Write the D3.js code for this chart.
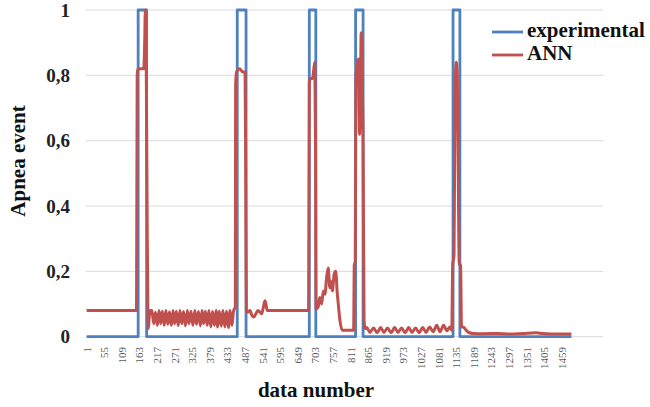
<!DOCTYPE html>
<html>
<head>
<meta charset="utf-8">
<script src="https://cdn.jsdelivr.net/npm/d3@7"></script>
<style>
  html, body { margin: 0; padding: 0; background: #fff; }
  svg { display: block; }
</style>
</head>
<body>
<svg id="chart" width="650" height="407"></svg>
<script>
// ---- data ----
const xTickLabels = [1, 55, 109, 163, 217, 271, 325, 379, 433, 487, 541, 595, 649, 703, 757, 811, 865, 919, 973, 1027, 1081, 1135, 1189, 1243, 1297, 1351, 1405, 1459];
const yTickValues = [0, 0.2, 0.4, 0.6, 0.8, 1];
const yTickLabels = ["0", "0,2", "0,4", "0,6", "0,8", "1"];
const seriesNames = ["experimental", "ANN"];
const seriesColors = ["#4f81bd", "#c0504d"];

// experimental apnea events (value 1 between start and end, 0 elsewhere)
const expFirst = 1;
const expLast = 1488;
const expStart = [159, 463, 684, 826, 1125];
const expEnd = [185, 490, 704, 849, 1146];

// ANN output (data number, value)
const annX = [1, 154, 156, 158, 176, 179, 181, 184, 187, 190, 193, 196, 201,
  207, 212, 218, 223, 228, 233, 239, 244, 250, 255, 261, 266, 271, 276, 282, 287, 293, 298, 304, 310, 315, 321, 327, 333, 338, 344, 350, 355, 360, 365, 371, 376, 382, 387, 393, 398, 403, 408, 414, 419, 425, 430, 436, 441, 447, 451, 454, 457,
  458, 461, 470, 480, 487, 489, 491, 496, 502, 508, 514, 520, 526, 533, 538, 543, 548, 551, 555, 560, 682,
  684, 688, 694, 698, 701, 703, 705, 711, 716, 722, 727, 732, 737, 742, 747, 750, 755, 760, 765, 770, 773, 778, 785, 820,
  822, 825, 827, 831, 835, 838, 841, 843, 846, 849, 852, 855,
  860, 870, 881, 892, 903, 913, 924, 935, 946, 956, 967, 978, 989, 999, 1010, 1021, 1032, 1042, 1053, 1064, 1075, 1085, 1096, 1106, 1115, 1121,
  1124, 1128, 1131, 1135, 1138, 1141, 1144, 1148, 1151, 1156, 1165, 1175, 1186, 1220, 1260, 1300, 1340, 1380, 1400, 1440, 1488];
const annY = [0.08, 0.08, 0.80, 0.82, 0.82, 0.9, 1.0, 0.8, 0.3, 0.025, 0.06, 0.08, 0.08,
  0.04, 0.075, 0.035, 0.08, 0.04, 0.078, 0.035, 0.08, 0.038, 0.076, 0.035, 0.08, 0.04, 0.078, 0.034, 0.08, 0.04, 0.077, 0.033, 0.08, 0.04, 0.078, 0.035, 0.08, 0.038, 0.077, 0.033, 0.08, 0.04, 0.078, 0.035, 0.08, 0.03, 0.077, 0.035, 0.08, 0.03, 0.078, 0.032, 0.08, 0.03, 0.078, 0.028, 0.08, 0.035, 0.075, 0.085, 0.09,
  0.77, 0.81, 0.82, 0.81, 0.81, 0.5, 0.08, 0.075, 0.08, 0.065, 0.06, 0.07, 0.08, 0.075, 0.07, 0.09, 0.11, 0.1, 0.08, 0.08, 0.08,
  0.78, 0.79, 0.79, 0.82, 0.84, 0.6, 0.085, 0.09, 0.12, 0.1, 0.14, 0.13, 0.18, 0.21, 0.15, 0.17, 0.14, 0.19, 0.2, 0.13, 0.1, 0.05, 0.02, 0.02,
  0.22, 0.23, 0.8, 0.83, 0.85, 0.62, 0.72, 0.93, 0.8, 0.6, 0.05, 0.025,
  0.028, 0.013, 0.027, 0.012, 0.028, 0.013, 0.027, 0.012, 0.028, 0.013, 0.027, 0.012, 0.028, 0.013, 0.027, 0.012, 0.028, 0.013, 0.03, 0.015, 0.035, 0.015, 0.035, 0.018, 0.03, 0.02,
  0.22, 0.25, 0.72, 0.84, 0.8, 0.5, 0.22, 0.22, 0.03, 0.03, 0.02, 0.012, 0.01, 0.009, 0.01, 0.008, 0.01, 0.012, 0.01, 0.008, 0.008];

// ---- build series ----
const expPoints = [[expFirst, 0]];
expStart.forEach((s, i) => {
  expPoints.push([s, 0], [s, 1], [expEnd[i], 1], [expEnd[i], 0]);
});
expPoints.push([expLast, 0]);
const annPoints = annX.map((d, i) => [d, annY[i]]);

// ---- layout ----
const svg = d3.select("#chart");
const plotLeft = 86, plotRight = 603, plotTop = 10, plotBottom = 336.7;
const x = d3.scaleLinear().domain([-1, 1585]).range([plotLeft, plotRight]);
const y = d3.scaleLinear().domain([0, 1]).range([plotBottom, plotTop]);

svg.append("rect").attr("width", 650).attr("height", 407).attr("fill", "#fff");

// gridlines
svg.append("g").selectAll("line").data(yTickValues).join("line")
  .attr("x1", plotLeft).attr("x2", plotRight)
  .attr("y1", d => y(d)).attr("y2", d => y(d))
  .attr("stroke", "#d9d9d9").attr("stroke-width", 1);

// y axis labels
const yAxis = d3.axisLeft(y).tickValues(yTickValues)
  .tickFormat((d, i) => yTickLabels[i]).tickSize(0).tickPadding(0);
const gy = svg.append("g").attr("transform", `translate(70,0)`).call(yAxis);
gy.select(".domain").remove();
gy.selectAll("text")
  .attr("font-family", "'Liberation Serif', 'Times New Roman', serif")
  .attr("font-weight", "bold").attr("font-size", 19).attr("fill", "#222");

// x axis labels
const gx = svg.append("g");
gx.selectAll("text").data(xTickLabels).join("text")
  .attr("transform", d => `translate(${x(d)},347) rotate(-90)`)
  .attr("text-anchor", "end").attr("dy", "0.35em")
  .attr("font-family", "'Liberation Serif', 'Times New Roman', serif")
  .attr("font-size", 11).attr("fill", "#5a5a5a")
  .text(d => d);

// series
const lineExp = d3.line().x(d => x(d[0])).y(d => y(d[1]));
const lineAnn = d3.line().x(d => x(d[0])).y(d => y(d[1])).curve(d3.curveMonotoneX);
svg.append("path").datum(expPoints).attr("d", lineExp)
  .attr("fill", "none").attr("stroke", seriesColors[0])
  .attr("stroke-width", 2.8).attr("stroke-linejoin", "round");
svg.append("path").datum(annPoints).attr("d", lineAnn)
  .attr("fill", "none").attr("stroke", seriesColors[1])
  .attr("stroke-width", 3).attr("stroke-linejoin", "round");

// axis titles
svg.append("text").attr("x", 316).attr("y", 397).attr("text-anchor", "middle")
  .attr("font-family", "'Liberation Serif', 'Times New Roman', serif")
  .attr("font-weight", "bold").attr("font-size", 21).attr("fill", "#111")
  .text("data number");
svg.append("text").attr("transform", "translate(25,161) rotate(-90)")
  .attr("text-anchor", "middle")
  .attr("font-family", "'Liberation Serif', 'Times New Roman', serif")
  .attr("font-weight", "bold").attr("font-size", 21).attr("fill", "#111")
  .text("Apnea event");

// legend
const lg = svg.append("g");
seriesNames.forEach((name, i) => {
  const ly = 32 + i * 23;
  lg.append("line").attr("x1", 492).attr("x2", 523).attr("y1", ly).attr("y2", ly)
    .attr("stroke", seriesColors[i]).attr("stroke-width", 2.8);
  lg.append("text").attr("x", 527).attr("y", ly + 5)
    .attr("font-family", "'Liberation Serif', 'Times New Roman', serif")
    .attr("font-weight", "bold").attr("font-size", 21).attr("fill", "#111")
    .text(name);
});
</script>
</body>
</html>
